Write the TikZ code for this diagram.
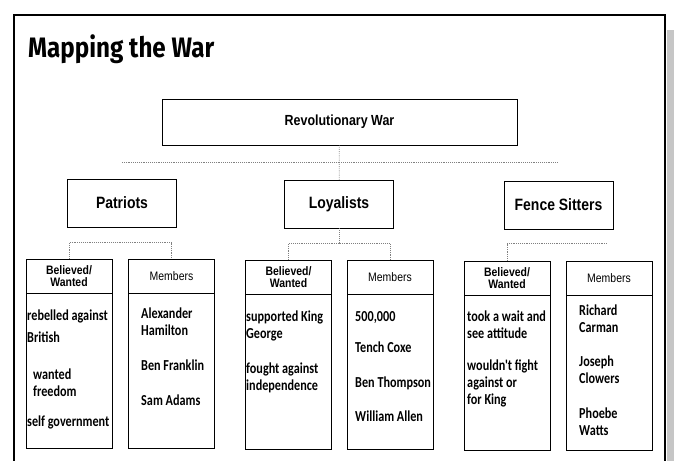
\documentclass[tikz,border=0pt]{standalone}
\usepackage{fontspec}
\setmainfont{Liberation Sans}
\newfontfamily\titlefont[FakeStretch=0.86]{Fira Sans}
\newfontfamily\boxfont[FakeStretch=0.85]{Liberation Sans}
\newfontfamily\handfont[FakeStretch=0.8]{Carlito}
\usetikzlibrary{positioning}

\tikzset{
  topbox/.style={draw, line width=0.8pt, minimum width=3.27cm, minimum height=1.44cm, font=\boxfont\bfseries\fontsize{14}{16}\selectfont},
  headbox/.style={draw, line width=0.7pt, minimum width=2.58cm, minimum height=1.02cm, align=center, inner sep=1pt, font=\boxfont\bfseries\fontsize{10.5}{10}\selectfont},
  bodybox/.style={draw, line width=0.7pt, minimum width=2.58cm, minimum height=4.65cm},
  entry/.style={anchor=north west, align=left, inner sep=0pt, font=\handfont\bfseries\fontsize{13}{14.5}\selectfont},
  link/.style={densely dotted, gray, line width=0.6pt}
}

\begin{document}
\begin{tikzpicture}[x=0.03cm, y=-0.03cm]
        \useasboundingbox (0,0) rectangle (674,461);
        % Page frame and scan edge
        \fill[gray!45] (667,30) rectangle (674,461);
        \draw[line width=1.6pt] (14,461) -- (14,15) -- (665,15) -- (665,461);
        \node[anchor=base west, inner sep=0pt, font=\titlefont\bfseries\fontsize{24}{28}\selectfont] (title) at (28,58) {Mapping the War};

        % Nodes
        \node[topbox, minimum width=10.65cm, minimum height=1.38cm, font=\boxfont\bfseries\fontsize{12.5}{15}\selectfont] (war) at (339.5,122) {Revolutionary War};
        \node[topbox] (patriots) at (122,203) {Patriots};
        \node[topbox] (loyalists) at (339,204) {Loyalists};
        \node[topbox] (fence) at (558.5,205) {Fence Sitters};

        \node[headbox] (pbel) at (69,276) {Believed/\\Wanted};
        \node[headbox, font=\boxfont\fontsize{10.5}{10}\selectfont] (pmem) at (171.5,276) {Members};
        \node[headbox] (lbel) at (288.5,277) {Believed/\\Wanted};
        \node[headbox, font=\boxfont\fontsize{10.5}{10}\selectfont] (lmem) at (390,277) {Members};
        \node[headbox] (fbel) at (507,278) {Believed/\\Wanted};
        \node[headbox, font=\boxfont\fontsize{10.5}{10}\selectfont] (fmem) at (609,278) {Members};

        \node[bodybox, below=0pt of pbel] (pbelbody) {};
        \node[bodybox, below=0pt of pmem] (pmembody) {};
        \node[bodybox, below=0pt of lbel] (lbelbody) {};
        \node[bodybox, below=0pt of lmem] (lmembody) {};
        \node[bodybox, below=0pt of fbel] (fbelbody) {};
        \node[bodybox, below=0pt of fmem] (fmembody) {};

        % Entries
        \node[entry] (p1) at (27,310) {rebelled against\\[4pt]British};
        \node[entry] (p2) at (33,369) {wanted\\freedom};
        \node[entry] (p3) at (27,416) {self government};
        \node[entry] (pm1) at (141,308) {Alexander\\Hamilton};
        \node[entry] (pm2) at (141,360) {Ben Franklin};
        \node[entry] (pm3) at (141,395) {Sam Adams};

        \node[entry] (l1) at (246,311) {supported King\\George};
        \node[entry] (l2) at (246,363) {fought against\\independence};
        \node[entry] (lm1) at (355,311) {500,000};
        \node[entry] (lm2) at (355,342) {Tench Coxe};
        \node[entry] (lm3) at (355,377) {Ben Thompson};
        \node[entry] (lm4) at (355,411) {William Allen};

        \node[entry] (f1) at (467,311) {took a wait and\\see attitude};
        \node[entry] (f2) at (467,360) {wouldn't fight\\against or\\for King};
        \node[entry] (fm1) at (579,305) {Richard\\Carman};
        \node[entry] (fm2) at (579,356) {Joseph\\Clowers};
        \node[entry] (fm3) at (579,408) {Phoebe\\Watts};

        % Links
        \coordinate (hl) at (122,162);
        \coordinate (hr) at (557,162);
        \draw[link] (hl) -- (hr);
        \draw[link] (war) -- (loyalists);
        \draw[link] (pbel.north) -- ++(0,-16) -| (pmem.north);
        \draw[link] (lbel.north) -- ++(0,-16) -| (lmem.north);
        \draw[link] (loyalists) -- (339,244);
        \draw[link] (fbel.north) -- ++(0,-17) -- ++(100,0);
    \end{tikzpicture}
\end{document}
